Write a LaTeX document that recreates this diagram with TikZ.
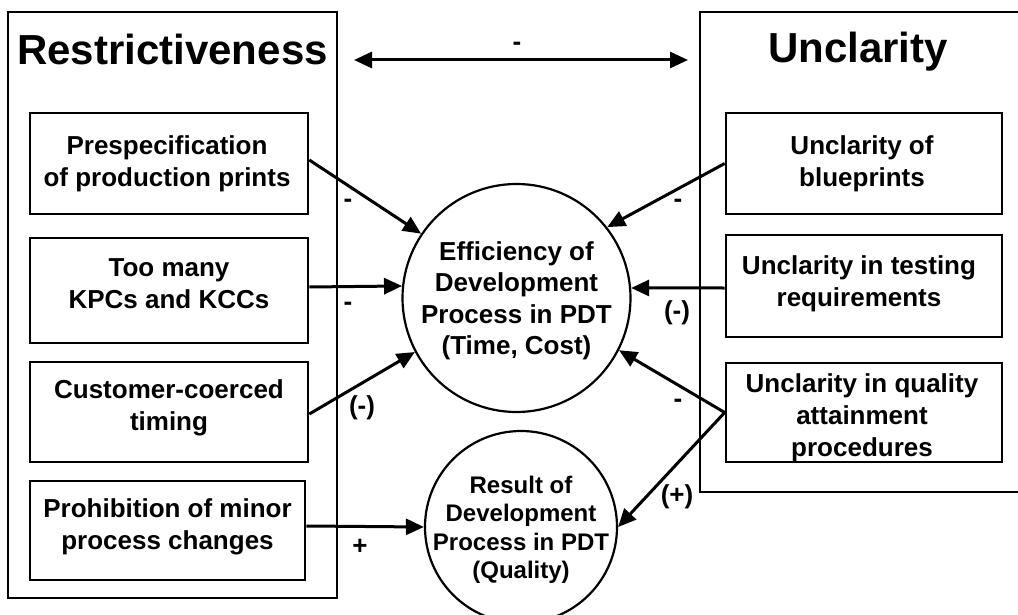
\documentclass[tikz,border=0pt]{standalone}
\usepackage{fontspec}
\setmainfont{Liberation Sans}
\usetikzlibrary{arrows.meta}
\begin{document}
\begin{tikzpicture}[x=1pt,y=-1pt,
  group/.style={draw, line width=2.5pt, inner sep=0pt},
  factor/.style={draw, line width=2.6pt, inner sep=0pt},
  words/.style={inner sep=0pt, align=center, font=\fontsize{26}{32}\selectfont\bfseries},
  outcome/.style={draw, circle, line width=2.2pt, inner sep=0pt},
  link/.style={line width=3pt, -{Triangle[length=18pt,width=16pt]}},
  sign/.style={font=\fontsize{26}{30}\selectfont\bfseries, inner sep=0pt},
  heading/.style={font=\fontsize{42}{48}\selectfont\bfseries, anchor=base, inner sep=0pt}]
\useasboundingbox (0,0) rectangle (1018,615);
\clip (0,0) rectangle (1018,615);
\fill[white] (0,0) rectangle (1018,615);

% the two groups of factors
\node[group, minimum width=329pt, minimum height=586pt] (restr) at (172.5,305) {};
\node[group, minimum width=330pt, minimum height=480pt] (uncl) at (865,252) {};
\node[heading] (restrT) at (172.5,65) {Restrictiveness};
\node[heading] (unclT) at (858,63) {Unclarity};

% restrictiveness factors
\node[factor, minimum width=278pt, minimum height=101pt] (b1) at (169,163.5) {};
\node[factor, minimum width=278pt, minimum height=105pt] (b2) at (169,290.5) {};
\node[factor, minimum width=278pt, minimum height=100pt] (b3) at (169,412) {};
\node[factor, minimum width=275pt, minimum height=99pt] (b4) at (167.5,530.5) {};
\node[words] (b1t) at ([xshift=-2pt]b1.center) {Prespecification\\of production prints};
\node[words] (b2t) at ([yshift=7pt]b2.center) {Too many\\KPCs and KCCs};
\node[words] (b3t) at ([yshift=4pt]b3.center) {Customer-coerced\\timing};
\node[words] (b4t) at ([yshift=4pt]b4.center) {Prohibition of minor\\process changes};

% unclarity factors
\node[factor, minimum width=276pt, minimum height=101pt] (r1) at (864,163.5) {};
\node[factor, minimum width=276pt, minimum height=102pt] (r2) at (864,286) {};
\node[factor, minimum width=276pt, minimum height=99pt] (r3) at (864,412.5) {};
\node[words] (r1t) at ([xshift=-2pt]r1.center) {Unclarity of\\blueprints};
\node[words] (r2t) at ([xshift=-5pt,yshift=2pt]r2.center) {Unclarity in testing\\requirements};
\node[words] (r3t) at ([xshift=-2pt,yshift=-5pt]r3.center) {Unclarity in quality\\attainment\\procedures};

% outcomes
\node[outcome, minimum size=228pt] (eff) at (516.5,298) {};
\node[outcome, minimum size=192pt] (res) at (521,527) {};
\node[words, font=\fontsize{26}{31.5}\selectfont\bfseries] (efft) at ([yshift=-3pt]eff.center)
  {Efficiency of\\Development\\Process in PDT\\(Time, Cost)};
\node[words, font=\fontsize{24}{28.5}\selectfont\bfseries] (rest) at ([yshift=-3pt]res.center)
  {Result of\\Development\\Process in PDT\\(Quality)};

% mutual relation of the two groups
\coordinate (ta) at (354,60);
\coordinate (tb) at (688,60);
\draw[line width=3pt, {Triangle[length=18pt,width=16pt]}-{Triangle[length=18pt,width=16pt]}] (ta) -- (tb);
\node[sign] (sT) at (517,46) {-};

% effects
\draw[link] ([yshift=3.5pt]b1.east) -- (eff.146);
\draw[link] ([yshift=3.5pt]b2.east) -- (eff.174);
\draw[link] ([yshift=-2pt]b3.east) -- (eff.208.7);
\draw[link] ([yshift=4.5pt]b4.east) -- (res.west);
\draw[link] (r1.west) -- (eff.38);
\draw[link] ([yshift=-2pt]r2.west) -- (eff.5);
\draw[link] (r3.west) -- (eff.-27);
\draw[link] (r3.west) -- (res.east);

% signs of the effects
\node[sign] (s1) at (348,203) {-};
\node[sign] (s2) at (348,306) {-};
\node[sign] (s3) at (362,408) {(-)};
\node[sign] (s4) at (360,547) {+};
\node[sign] (s5) at (678,203) {-};
\node[sign] (s6) at (677,313) {(-)};
\node[sign] (s7) at (678,403) {-};
\node[sign] (s8) at (677,497) {(+)};
\end{tikzpicture}
\end{document}
